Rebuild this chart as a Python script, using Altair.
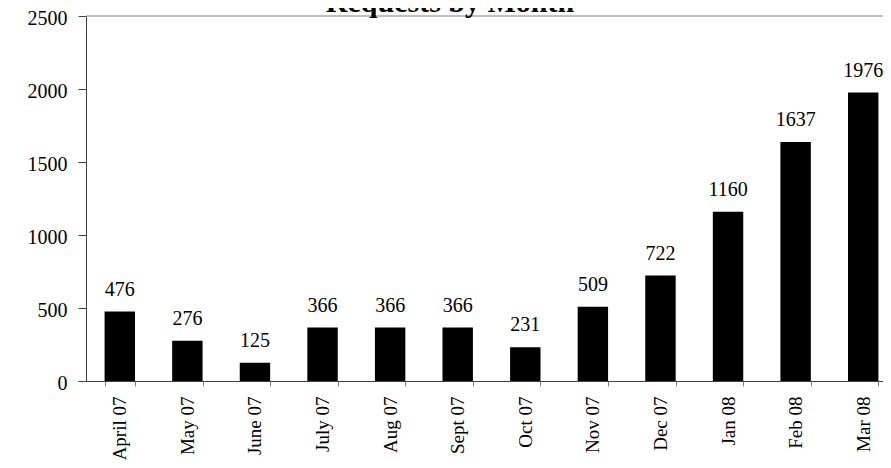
import altair as alt
import pandas as pd

months = ["April 07", "May 07", "June 07", "July 07", "Aug 07", "Sept 07",
          "Oct 07", "Nov 07", "Dec 07", "Jan 08", "Feb 08", "Mar 08"]
requests = [476, 276, 125, 366, 366, 366, 231, 509, 722, 1160, 1637, 1976]
title_text = "Requests by Month"

df = pd.DataFrame({"month": months, "requests": requests})

FONT = "Liberation Serif"
W, H = 797, 365
RANGE_W = 811

x_enc = alt.X(
    "month:N", sort=months, title=None,
    scale=alt.Scale(range=[0, RANGE_W], paddingInner=0.55, paddingOuter=0.275),
    axis=alt.Axis(labelAngle=-90, labelFont=FONT, labelFontSize=19, labelColor="black",
                  tickBand="extent", tickSize=5, tickColor="#808080",
                  domainColor="#404040", labelPadding=10, grid=False),
)
y_enc = alt.Y(
    "requests:Q", title=None,
    scale=alt.Scale(domain=[0, 2500], nice=False),
    axis=alt.Axis(values=[0, 500, 1000, 1500, 2000, 2500], format="d", labelFont=FONT,
                  labelFontSize=20, labelColor="black", tickSize=8, tickColor="#404040",
                  domainColor="#404040", labelPadding=11, labelOffset=2, grid=False),
)

base = alt.Chart(df)
bars = base.mark_bar(color="black").encode(x=x_enc, y=y_enc)
labels = base.mark_text(font=FONT, fontSize=20, baseline="alphabetic", dy=-16,
                        color="black").encode(
    x=alt.X("month:N", sort=months), y="requests:Q", text="requests:Q")
top_rule = alt.Chart(pd.DataFrame({"v": [2500]})).mark_rule(color="#808080", strokeWidth=1).encode(
    y=alt.Y("v:Q"), x=alt.value(0), x2=alt.value(RANGE_W))
title = alt.Chart(pd.DataFrame({"t": [title_text]})).mark_text(
    font=FONT, fontSize=30, fontWeight="bold", align="center", baseline="alphabetic",
    color="black").encode(text="t:N", x=alt.value(364), y=alt.value(-4))

chart = alt.layer(top_rule, bars, labels, title).properties(
    width=W, height=H,
    autosize=alt.AutoSizeParams(type="none"),
    padding={"left": 78, "top": 8, "right": 0, "bottom": 79},
).configure_view(stroke=None)

chart.save("out.html", embed_options={"renderer": "svg", "actions": False})
